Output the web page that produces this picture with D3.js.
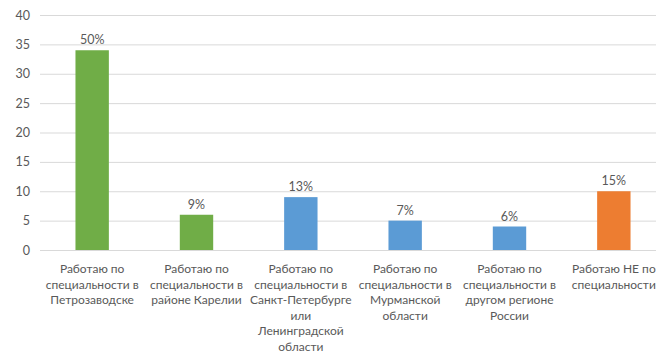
<!DOCTYPE html>
<html><head><meta charset="utf-8">
<script src="https://cdn.jsdelivr.net/npm/d3@7"></script>
<style>body{margin:0;background:#fff}svg{display:block}text{font-family:Lato,"Open Sans",sans-serif;fill:#595959}</style>
</head><body><svg id="c" width="659" height="356"></svg>
<script>
const categories = [
  "Работаю по\nспециальности в\nПетрозаводске",
  "Работаю по\nспециальности в\nрайоне Карелии",
  "Работаю по\nспециальности в\nСанкт-Петербурге\nили\nЛенинградской\nобласти",
  "Работаю по\nспециальности в\nМурманской\nобласти",
  "Работаю по\nспециальности в\nдругом регионе\nРоссии",
  "Работаю НЕ по\nспециальности"
];
const values = [34, 6, 9, 5, 4, 10];
const pctLabels = ["50%", "9%", "13%", "7%", "6%", "15%"];
const colors = ["#70AD47", "#70AD47", "#5B9BD5", "#5B9BD5", "#5B9BD5", "#ED7D31"];
const yTicks = [0, 5, 10, 15, 20, 25, 30, 35, 40];

const svg = d3.select("#c");
const x = d3.scaleBand().domain(categories).range([40, 666]).paddingInner(0.68).paddingOuter(0.34);
const y = d3.scaleLinear().domain([0, 40]).range([250, 15]);

svg.append("g").selectAll("line").data(yTicks).join("line")
  .attr("x1", 40).attr("x2", 656)
  .attr("y1", d => y(d) + 0.5).attr("y2", d => y(d) + 0.5)
  .attr("stroke", "#D9D9D9").attr("stroke-width", 1);

const yAxis = d3.axisLeft(y).tickValues(yTicks).tickSize(0).tickPadding(0);
const ga = svg.append("g").attr("transform", "translate(30,0)").call(yAxis);
ga.select(".domain").remove();
ga.selectAll("text").style("font-size", "12.5px").attr("fill", "#595959").attr("font-family", "Lato, 'Open Sans', sans-serif");

svg.append("g").selectAll("rect").data(values).join("rect")
  .attr("x", (d, i) => x(categories[i]))
  .attr("y", d => y(d))
  .attr("width", x.bandwidth())
  .attr("height", d => y(0) - y(d))
  .attr("fill", (d, i) => colors[i]);

svg.append("g").selectAll("text").data(values).join("text")
  .attr("x", (d, i) => x(categories[i]) + x.bandwidth() / 2)
  .attr("y", d => y(d) - 6)
  .attr("text-anchor", "middle")
  .style("font-size", "12.5px")
  .text((d, i) => pctLabels[i]);

const cg = svg.append("g");
categories.forEach((c, i) => {
  const cx = x(c) + x.bandwidth() / 2;
  const t = cg.append("text")
    .attr("x", cx)
    .attr("y", 273)
    .attr("text-anchor", "middle")
    .style("font-size", "12px");
  c.split("\n").forEach((line, j) => {
    t.append("tspan").attr("x", cx).attr("dy", j === 0 ? 0 : 15.6).text(line);
  });
});
</script></body></html>
